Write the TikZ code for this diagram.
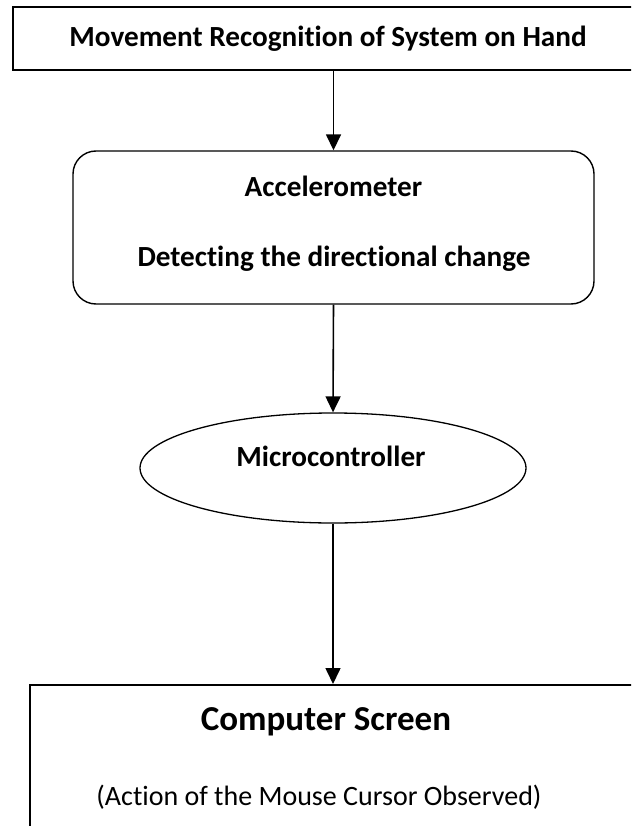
\documentclass[tikz,border=0pt]{standalone}
\usepackage{fontspec}
\setmainfont{Carlito}[RawFeature=-liga]
\usetikzlibrary{arrows.meta,shapes.geometric}

\begin{document}
\begin{tikzpicture}[x=1pt,y=-1pt,
  flowline/.style={line width=1.6pt,-{Triangle[length=16pt,width=15pt]}},
  framebox/.style={draw,rectangle,line width=2pt,inner sep=0pt},
  txt/.style={font=\fontsize{29.2}{35}\selectfont\bfseries,anchor=base,inner sep=0pt},
  bigtxt/.style={font=\fontsize{35}{42}\selectfont\bfseries,anchor=base,inner sep=0pt},
  smalltxt/.style={font=\fontsize{28}{34}\selectfont,anchor=base,inner sep=0pt}]
\useasboundingbox (0,0) rectangle (631,826);
\clip (0,0) rectangle (631,826);

% blocks
\node[framebox,minimum width=640pt,minimum height=63pt] (hand) at (333,38.5) {};
\node[draw,rectangle,line width=1.4pt,rounded corners=23pt,inner sep=0pt,
      minimum width=521pt,minimum height=153pt] (acc) at (333.5,227.5) {};
\node[draw,ellipse,line width=1.3pt,inner sep=0pt,
      minimum width=386pt,minimum height=110pt] (micro) at (333,468) {};
\node[framebox,anchor=north west,minimum width=640pt,minimum height=300pt] (screen) at (29,684) {};

% texts
\node[txt] (handtxt) at (328,47) {Movement Recognition of System on Hand};
\node[txt] (acctxt) at (333.5,197) {Accelerometer};
\node[txt] (dirtxt) at (334,266) {Detecting the directional change};
\node[txt] (microtxt) at (331,466) {Microcontroller};
\node[bigtxt] (screentxt) at (326,730) {Computer Screen};
\node[smalltxt] (cursortxt) at (319,805) {(Action of the Mouse Cursor Observed)};

% connectors
\draw[flowline] (acc.north |- hand.south) -- (acc.north);
\draw[flowline] (acc.south) -- (micro.north);
\draw[flowline] (micro.south) -- (micro.south |- screen.north);
\end{tikzpicture}
\end{document}
